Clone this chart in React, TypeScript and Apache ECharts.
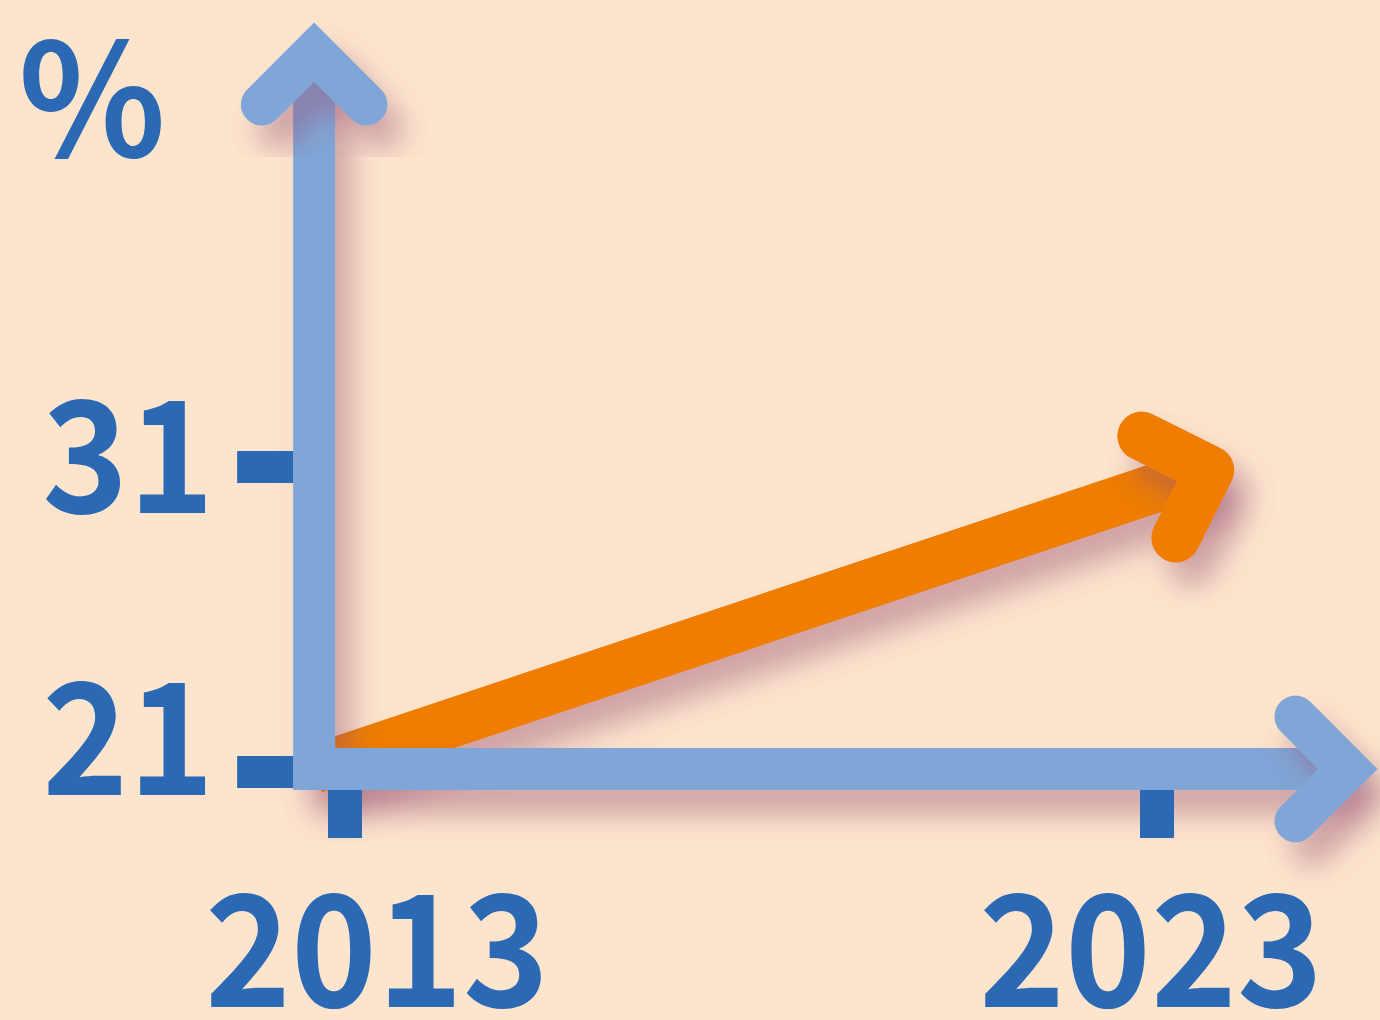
import React, { useEffect, useRef } from "react";
import * as echarts from "echarts";

// ---- data ----
const yearTicks = [2013, 2023];
const valueTicks = [21, 31];
const unitLabel = "%";
// axis origin (where the two axes cross) and the axis arrow tips, in data units
const axisOrigin = [2012.62, 21.1];
const axisEnd = [2025.35, 44.6];
// trend arrow: from origin to its head
const trendStart = [2012.62, 21.1];
const trendEnd = [2023.65, 30.9];

// ---- styles ----
const BG = "#FDE5CD";
const AXIS = "#7FA6D7";
const DARK = "#2C69B5";
const ORANGE = "#EE7D00";
const FONT = '"Noto Sans CJK SC", "Noto Sans", sans-serif';
const SHADOW = {
  shadowBlur: 30,
  shadowOffsetX: 16,
  shadowOffsetY: 24,
  shadowColor: "rgba(150,80,115,0.45)",
};
const yLabelDy = [-36, -13];
const xLabelDx = [32, -6];
const LABEL_FONT = `bold 155px ${FONT}`;
const LABEL_SCALE_X = 0.94;

function rot(v: number[], deg: number) {
  const t = (deg * Math.PI) / 180;
  return [v[0] * Math.cos(t) - v[1] * Math.sin(t), v[0] * Math.sin(t) + v[1] * Math.cos(t)];
}

export default function App() {
  const ref = useRef<HTMLDivElement>(null);
  useEffect(() => {
    if (!ref.current) return;
    const chart = echarts.init(ref.current, undefined, { renderer: "svg" });

    const option: any = {
      animation: false,
      backgroundColor: BG,
      grid: { left: 20.2, right: 20, top: 40, bottom: 34.5 },
      xAxis: { type: "value", min: 2009, max: 2025.5, show: false },
      yAxis: { type: "value", min: 14, max: 45, show: false },
      graphic: [
        {
          type: "text",
          x: 92,
          y: 89,
          scaleX: 0.98,
          style: {
            text: unitLabel,
            font: `bold 156px ${FONT}`,
            fill: DARK,
            align: "center",
            verticalAlign: "middle",
          },
        },
      ],
      series: [
        // trend arrow (under the axes)
        {
          type: "custom",
          z: 1,
          data: [[trendStart[0], trendStart[1], trendEnd[0], trendEnd[1]]],
          renderItem: (_p: any, api: any) => {
            const a = api.coord([api.value(0), api.value(1)]);
            const b = api.coord([api.value(2), api.value(3)]);
            const dx = b[0] - a[0];
            const dy = b[1] - a[1];
            const len = Math.hypot(dx, dy);
            const back = [-dx / len, -dy / len];
            const L = 76;
            const r1 = rot(back, 45);
            const r2 = rot(back, -45);
            const arm1 = [b[0] + r1[0] * L, b[1] + r1[1] * L];
            const arm2 = [b[0] + r2[0] * L, b[1] + r2[1] * L];
            return {
              type: "group",
              children: [
                {
                  type: "polyline",
                  shape: { points: [a, b] },
                  style: { stroke: ORANGE, lineWidth: 49, lineCap: "butt", fill: "none", ...SHADOW },
                },
                {
                  type: "polyline",
                  shape: { points: [arm1, b, arm2] },
                  style: {
                    stroke: ORANGE,
                    lineWidth: 49,
                    lineCap: "round",
                    lineJoin: "round",
                    fill: "none",
                    ...SHADOW,
                  },
                },
              ],
            };
          },
        },
        // axes
        {
          type: "custom",
          z: 2,
          data: [[axisOrigin[0], axisOrigin[1], axisEnd[0], axisEnd[1]]],
          renderItem: (_p: any, api: any) => {
            const o = api.coord([api.value(0), api.value(1)]);
            const e = api.coord([api.value(2), api.value(3)]);
            const top = [o[0], e[1]];
            const right = [e[0], o[1]];
            const L = 74;
            const yArms = [
              [top[0] - L * 0.7071, top[1] + L * 0.7071],
              top,
              [top[0] + L * 0.7071, top[1] + L * 0.7071],
            ];
            const xArms = [
              [right[0] - L * 0.7071, right[1] - L * 0.7071],
              right,
              [right[0] - L * 0.7071, right[1] + L * 0.7071],
            ];
            const st = {
              stroke: AXIS,
              lineWidth: 42,
              fill: "none",
              ...SHADOW,
            };
            return {
              type: "group",
              children: [
                {
                  type: "polyline",
                  shape: { points: [top, o, right] },
                  style: { ...st, lineJoin: "miter", lineCap: "butt" },
                },
                {
                  type: "polyline",
                  shape: { points: yArms },
                  style: { ...st, lineJoin: "miter", lineCap: "round" },
                },
                {
                  type: "polyline",
                  shape: { points: xArms },
                  style: { ...st, lineJoin: "miter", lineCap: "round" },
                },
              ],
            };
          },
        },
        // y ticks + labels
        {
          type: "custom",
          z: 3,
          data: valueTicks.map((v) => [axisOrigin[0], v]),
          renderItem: (p: any, api: any) => {
            const c = api.coord([api.value(0), api.value(1)]);
            const i = p.dataIndex;
            return {
              type: "group",
              children: [
                {
                  type: "rect",
                  shape: { x: c[0] - 21 - 56, y: c[1] - 16, width: 56, height: 32 },
                  style: { fill: DARK },
                },
                {
                  type: "text",
                  x: c[0] - 100,
                  y: c[1] + yLabelDy[i] - 8,
                  scaleX: LABEL_SCALE_X,
                  style: {
                    text: String(valueTicks[i]),
                    font: LABEL_FONT,
                    fill: DARK,
                    align: "right",
                    verticalAlign: "middle",
                  },
                },
              ],
            };
          },
        },
        // x ticks + labels
        {
          type: "custom",
          z: 3,
          data: yearTicks.map((y) => [y, axisOrigin[1]]),
          renderItem: (p: any, api: any) => {
            const c = api.coord([api.value(0), api.value(1)]);
            const i = p.dataIndex;
            return {
              type: "group",
              children: [
                {
                  type: "rect",
                  shape: { x: c[0] - 17, y: c[1] + 21, width: 34, height: 48 },
                  style: { fill: DARK },
                },
                {
                  type: "text",
                  x: c[0] + xLabelDx[i],
                  y: c[1] + 171,
                  scaleX: LABEL_SCALE_X,
                  style: {
                    text: String(yearTicks[i]),
                    font: LABEL_FONT,
                    fill: DARK,
                    align: "center",
                    verticalAlign: "middle",
                  },
                },
              ],
            };
          },
        },
      ],
    };
    chart.setOption(option);
    return () => chart.dispose();
  }, []);
  return (
    <div
      ref={ref}
      style={{ position: "fixed", left: 0, top: 0, width: 1380, height: 1020, background: BG }}
    />
  );
}
